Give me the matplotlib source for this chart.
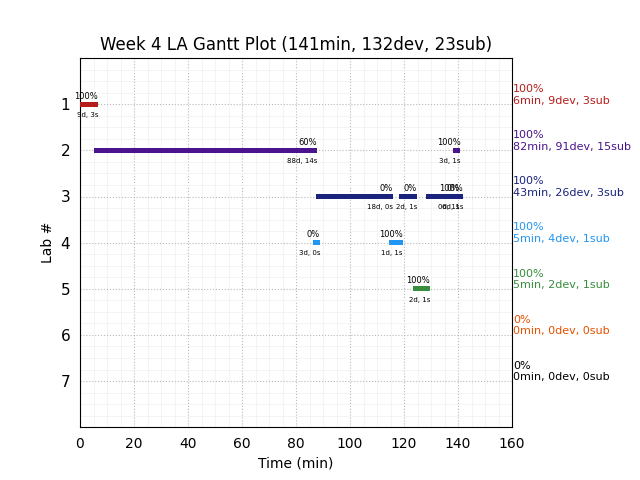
import numpy as np
import matplotlib
matplotlib.use("Agg")
import matplotlib.pyplot as plt
from matplotlib.ticker import MultipleLocator

# lab numbers and their colours
labs = [1, 2, 3, 4, 5, 6, 7]
lab_colors = ['#b71c1c', '#4a148c', '#1a237e', '#2196f3', '#388e3c', '#e65100', '#000000']

# summary per lab (right hand side)
lab_pct = ['100%', '100%', '100%', '100%', '100%', '0%', '0%']
lab_min = [6, 82, 43, 5, 5, 0, 0]
lab_dev = [9, 91, 26, 4, 2, 0, 0]
lab_sub = [3, 15, 3, 1, 1, 0, 0]

# gantt segments: lab, start (min), duration (min), percent, dev/sub label
seg_lab = [1, 2, 2, 3, 3, 3, 3, 4, 4, 5]
seg_start = [0.0, 5.2, 138.1, 87.4, 118.1, 128.1, 139.0, 86.3, 114.4, 123.3]
seg_dur = [6.7, 82.6, 2.8, 28.5, 6.7, 13.8, 1.7, 2.6, 5.2, 6.3]
seg_pct = ['100%', '60%', '100%', '0%', '0%', '100%', '0%', '0%', '100%', '100%']
seg_info = ['9d, 3s', '88d, 14s', '3d, 1s', '18d, 0s', '2d, 1s', '6d, 1s', '0d, 1s',
            '3d, 0s', '1d, 1s', '2d, 1s']

title = 'Week 4 LA Gantt Plot (141min, 132dev, 23sub)'

fig, ax = plt.subplots(figsize=(6.4, 4.8), dpi=100)
fig.subplots_adjust(left=0.125, right=0.8, top=0.879, bottom=0.11)

for lab, s, d, p, info in zip(seg_lab, seg_start, seg_dur, seg_pct, seg_info):
    c = lab_colors[lab - 1]
    ax.barh(lab, d, left=s, height=0.1, color=c, zorder=3)
    end = s + d
    ax.text(end, lab - 0.08, p, ha='right', va='bottom', fontsize=6, zorder=4)
    ax.text(end, lab + 0.17, info, ha='right', va='top', fontsize=5, zorder=4)

for i, lab in enumerate(labs):
    txt = '%s\n%dmin, %ddev, %dsub' % (lab_pct[i], lab_min[i], lab_dev[i], lab_sub[i])
    ax.text(160.4, lab + 0.03, txt, color=lab_colors[i], fontsize=8,
            ha='left', va='bottom', clip_on=False)

ax.set_xlim(0, 160)
ax.set_ylim(8, 0)
ax.set_yticks(labs)
ax.xaxis.set_minor_locator(MultipleLocator(5))
ax.yaxis.set_minor_locator(MultipleLocator(0.25))
ax.grid(which='major', linestyle=':', color='#b8b8b8', linewidth=0.8)
ax.grid(which='minor', linestyle='-', color='#f2f2f2', linewidth=0.6)
ax.set_axisbelow(True)
ax.tick_params(which='both', color=(0, 0, 0, 0))
ax.tick_params(axis='y', labelsize=11)

ax.set_title(title)
ax.set_xlabel('Time (min)')
ax.set_ylabel('Lab #')

fig.savefig('out.png', dpi=100)
